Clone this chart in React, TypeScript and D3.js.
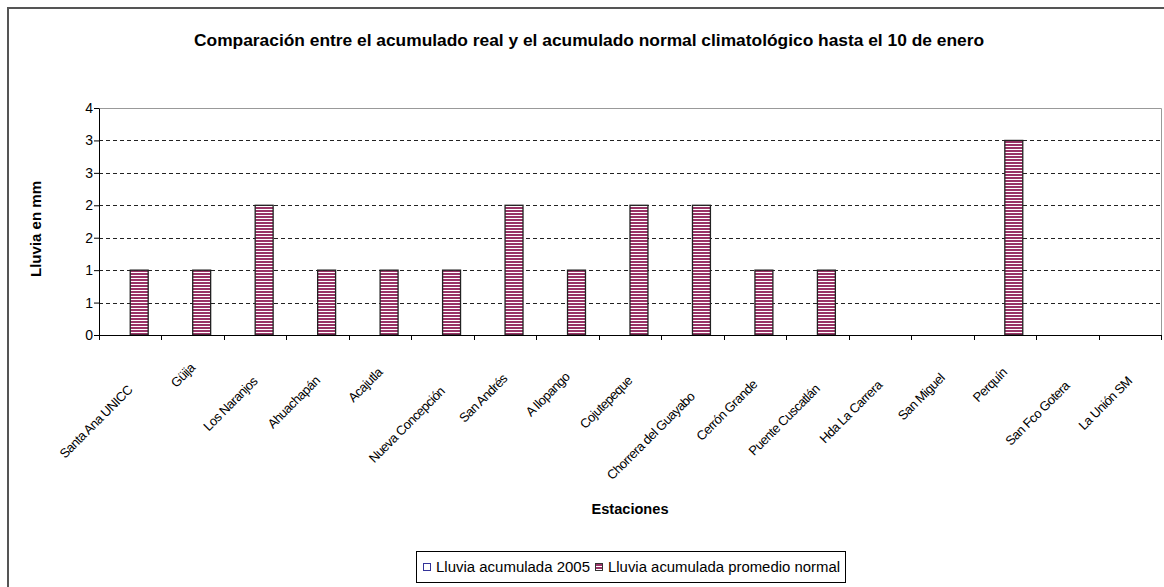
import * as d3 from 'd3';
import { useEffect, useRef } from 'react';

const chartTitle = 'Comparación entre el acumulado real y el acumulado normal climatológico hasta el 10 de enero';
const yAxisTitle = 'Lluvia en mm';
const xAxisTitle = 'Estaciones';

const stations = [
  'Santa Ana UNICC', 'Güija', 'Los Naranjos', 'Ahuachapán', 'Acajutla', 'Nueva Concepción',
  'San Andrés', 'A Ilopango', 'Cojutepeque', 'Chorrera del Guayabo', 'Cerrón Grande',
  'Puente Cuscatlán', 'Hda La Carrera', 'San Miguel', 'Perquín', 'San Fco Gotera', 'La Unión SM',
];
const seriesNames = ['Lluvia acumulada 2005', 'Lluvia acumulada promedio normal'];
const lluvia2005 = [0, 0, 0, 0, 0, 0, 0, 0, 0, 0, 0, 0, 0, 0, 0, 0, 0];
const lluviaNormal = [1, 1, 2, 1, 1, 1, 2, 1, 2, 2, 1, 1, 0, 0, 3, 0, 0];
const yTicks = [0, 0.5, 1, 1.5, 2, 2.5, 3, 3.5];
const yTickLabels = ['0', '1', '1', '2', '2', '3', '3', '4'];

const FONT = '"Liberation Sans", Arial, sans-serif';
const PLUM = '#993366';

export default function App() {
  const ref = useRef<SVGSVGElement>(null);

  useEffect(() => {
    const svg = d3.select(ref.current);
    svg.selectAll('*').remove();

    const width = 1164;
    const height = 587;
    const plot = { left: 99, right: 1161, top: 108, bottom: 335 };

    const defs = svg.append('defs');
    const pat = defs.append('pattern')
      .attr('id', 'hstripe')
      .attr('patternUnits', 'userSpaceOnUse')
      .attr('width', 4).attr('height', 3);
    pat.append('rect').attr('width', 4).attr('height', 3).attr('fill', '#fff');
    pat.append('rect').attr('width', 4).attr('height', 2).attr('fill', PLUM);

    const vpat = defs.append('pattern')
      .attr('id', 'vstripe')
      .attr('patternUnits', 'userSpaceOnUse')
      .attr('width', 3).attr('height', 4);
    vpat.append('rect').attr('width', 3).attr('height', 4).attr('fill', '#fff');
    vpat.append('rect').attr('width', 1).attr('height', 4).attr('fill', '#9999ff');

    // chart background + outer border (right/bottom edges fall off the page)
    svg.append('rect')
      .attr('x', 8).attr('y', 8)
      .attr('width', width + 20).attr('height', height + 20)
      .attr('fill', '#fff')
      .attr('stroke', '#555').attr('stroke-width', 2);

    const xScale = d3.scaleBand<string>().domain(stations).range([plot.left, plot.right]);
    const xSub = d3.scaleBand<string>().domain(seriesNames).range([0, xScale.bandwidth()]).paddingOuter(0.74);
    const yScale = d3.scaleLinear().domain([0, 3.5]).range([plot.bottom, plot.top]);

    // gridlines
    svg.append('g')
      .selectAll('line')
      .data(yTicks.filter(t => t > 0))
      .enter().append('line')
      .attr('x1', plot.left).attr('x2', plot.right)
      .attr('y1', d => Math.round(yScale(d)) + 0.5)
      .attr('y2', d => Math.round(yScale(d)) + 0.5)
      .attr('stroke', '#222')
      .attr('stroke-dasharray', '4,3');

    // plot area border top/right
    svg.append('path')
      .attr('d', `M${plot.left},${plot.top + 0.5}H${plot.right + 0.5}V${plot.bottom}`)
      .attr('fill', 'none')
      .attr('stroke', '#999')
      .attr('stroke-width', 1);

    // bars
    const table = stations.map((s, i) => ({ station: s, values: [lluvia2005[i], lluviaNormal[i]] }));
    const groups = svg.append('g')
      .selectAll('g')
      .data(table)
      .enter().append('g')
      .attr('transform', d => `translate(${xScale(d.station)},0)`);

    groups.selectAll('rect')
      .data(d => d.values.map((v, k) => ({ series: seriesNames[k], value: v, k })))
      .enter().append('rect')
      .filter(d => d.value > 0)
      .attr('x', d => xSub(d.series)!)
      .attr('y', d => yScale(d.value))
      .attr('width', xSub.bandwidth())
      .attr('height', d => yScale(0) - yScale(d.value))
      .attr('fill', d => (d.k === 0 ? 'url(#vstripe)' : 'url(#hstripe)'))
      .attr('stroke', '#222')
      .attr('stroke-width', 1.3);

    // y axis
    const yAxis = svg.append('g')
      .attr('transform', `translate(${plot.left},0)`)
      .call(d3.axisLeft(yScale).tickValues(yTicks).tickSize(5).tickSizeOuter(0)
        .tickFormat((_d, i) => yTickLabels[i]));
    yAxis.select('.domain').attr('stroke', '#000');
    yAxis.selectAll('.tick line').attr('stroke', '#000');
    yAxis.selectAll('text')
      .attr('font-family', FONT).attr('font-size', 14).attr('fill', '#000').attr('x', -6);
    svg.append('line')
      .attr('x1', plot.left - 5).attr('x2', plot.left)
      .attr('y1', plot.top + 0.5).attr('y2', plot.top + 0.5)
      .attr('stroke', '#000');

    // x axis line + ticks at category boundaries
    svg.append('line')
      .attr('x1', plot.left).attr('x2', plot.right + 1)
      .attr('y1', plot.bottom + 0.5).attr('y2', plot.bottom + 0.5)
      .attr('stroke', '#000');
    const bounds = stations.map(s => xScale(s)!).concat([plot.right]);
    svg.append('g')
      .selectAll('line')
      .data(bounds)
      .enter().append('line')
      .attr('x1', d => Math.round(d) + 0.5).attr('x2', d => Math.round(d) + 0.5)
      .attr('y1', plot.bottom).attr('y2', plot.bottom + 5)
      .attr('stroke', '#000');

    // rotated category labels
    const labels = svg.append('g')
      .selectAll('text')
      .data(stations)
      .enter().append('text')
      .attr('font-family', FONT)
      .attr('font-size', 13)
      .attr('letter-spacing', -0.55)
      .attr('text-anchor', 'end')
      .attr('fill', '#000')
      .text(d => d);
    labels.each(function (d) {
      const len = (this as SVGTextElement).getComputedTextLength();
      const dx = len * Math.SQRT1_2;
      const cx = xScale(d)! + xScale.bandwidth() / 2 + 3;
      const cy = 360 + 0.45 * dx;
      d3.select(this).attr('transform', `translate(${cx},${cy}) rotate(-45)`);
    });

    // titles
    svg.append('text')
      .attr('x', 194).attr('y', 46)
      .attr('font-family', FONT).attr('font-size', 16).attr('font-weight', 'bold')
      .attr('textLength', 790).attr('lengthAdjust', 'spacingAndGlyphs')
      .attr('fill', '#000')
      .text(chartTitle);

    svg.append('text')
      .attr('transform', `translate(41,229) rotate(-90)`)
      .attr('text-anchor', 'middle')
      .attr('font-family', FONT).attr('font-size', 14).attr('font-weight', 'bold')
      .attr('textLength', 96).attr('lengthAdjust', 'spacingAndGlyphs')
      .attr('fill', '#000')
      .text(yAxisTitle);

    svg.append('text')
      .attr('x', (plot.left + plot.right) / 2).attr('y', 514)
      .attr('text-anchor', 'middle')
      .attr('font-family', FONT).attr('font-size', 14).attr('font-weight', 'bold')
      .attr('textLength', 77).attr('lengthAdjust', 'spacingAndGlyphs')
      .attr('fill', '#000')
      .text(xAxisTitle);

    // legend
    const lg = svg.append('g');
    const lgLeft = 416;
    const lgRight = 845;
    lg.append('rect')
      .attr('x', lgLeft + 0.5).attr('y', 551.5)
      .attr('width', lgRight - lgLeft).attr('height', 31)
      .attr('fill', '#fff').attr('stroke', '#000');
    const items = [
      { name: seriesNames[0], x: 423, fill: '#fff', stroke: '#333399', w: 154 },
      { name: seriesNames[1], x: 595, fill: 'url(#hstripe)', stroke: '#333', w: 232 },
    ];
    items.forEach(it => {
      lg.append('rect')
        .attr('x', it.x + 0.5).attr('y', 563.5)
        .attr('width', 7).attr('height', 7)
        .attr('fill', it.fill).attr('stroke', it.stroke);
      lg.append('text')
        .attr('x', it.x + 13).attr('y', 572)
        .attr('font-family', FONT).attr('font-size', 14)
        .attr('textLength', it.w).attr('lengthAdjust', 'spacingAndGlyphs')
        .attr('fill', '#000')
        .text(it.name);
    });
  }, []);

  return (
    <svg
      ref={ref}
      width={1164}
      height={587}
      style={{ position: 'absolute', left: 0, top: 0, display: 'block', background: '#fff' }}
    />
  );
}
